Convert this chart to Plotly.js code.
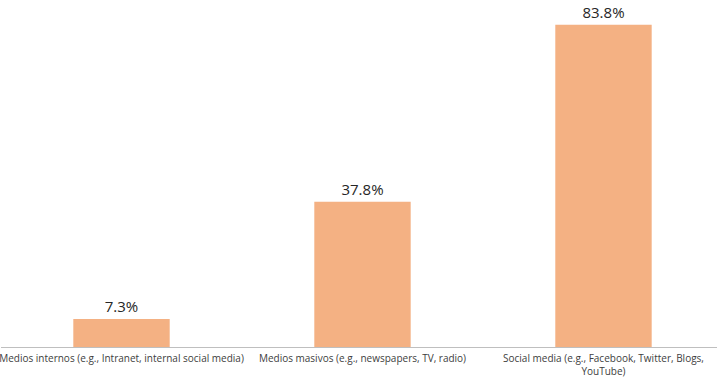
<!DOCTYPE html>
<html>
<head>
<meta charset="utf-8">
<script src="https://cdn.plot.ly/plotly-3.0.1.min.js"></script>
<style>html,body{margin:0;padding:0;background:#fff;}#chart{width:717px;height:382px;}</style>
</head>
<body>
<div id="chart"></div>
<script>
const categories = [
  "Medios internos (e.g., Intranet, internal social media)",
  "Medios masivos (e.g., newspapers, TV, radio)",
  "Social media (e.g., Facebook, Twitter, Blogs,<br>YouTube)"
];
const values = [7.3, 37.8, 83.8];
const valueLabels = values.map(v => v.toFixed(1) + "%");

const trace = {
  type: "bar",
  x: [0, 1, 2],
  y: values,
  width: 0.4,
  marker: {color: "#F4B183"},
  text: valueLabels,
  textposition: "outside",
  cliponaxis: false,
  textfont: {family: "Open Sans, sans-serif", size: 15, color: "#262626"},
  hoverinfo: "none"
};

const layout = {
  width: 717, height: 382,
  margin: {l: 1, r: 0, t: 1, b: 35},
  paper_bgcolor: "#fff", plot_bgcolor: "#fff",
  showlegend: false,
  bargap: 0.6,
  xaxis: {
    range: [-0.5, 2.471],
    tickmode: "array", tickvals: [0, 1, 2], ticktext: categories,
    showline: true, linecolor: "#bfbfbf", linewidth: 1,
    showgrid: false, zeroline: false, ticks: "",
    ticklabeloverflow: "allow",
    ticklabelstandoff: 2,
    tickfont: {family: "Open Sans, sans-serif", size: 10, color: "#404040"}
  },
  yaxis: {
    range: [0, 90], visible: false, showgrid: false, zeroline: false
  }
};

Plotly.newPlot("chart", [trace], layout, {staticPlot: true, displayModeBar: false});
</script>
</body>
</html>
